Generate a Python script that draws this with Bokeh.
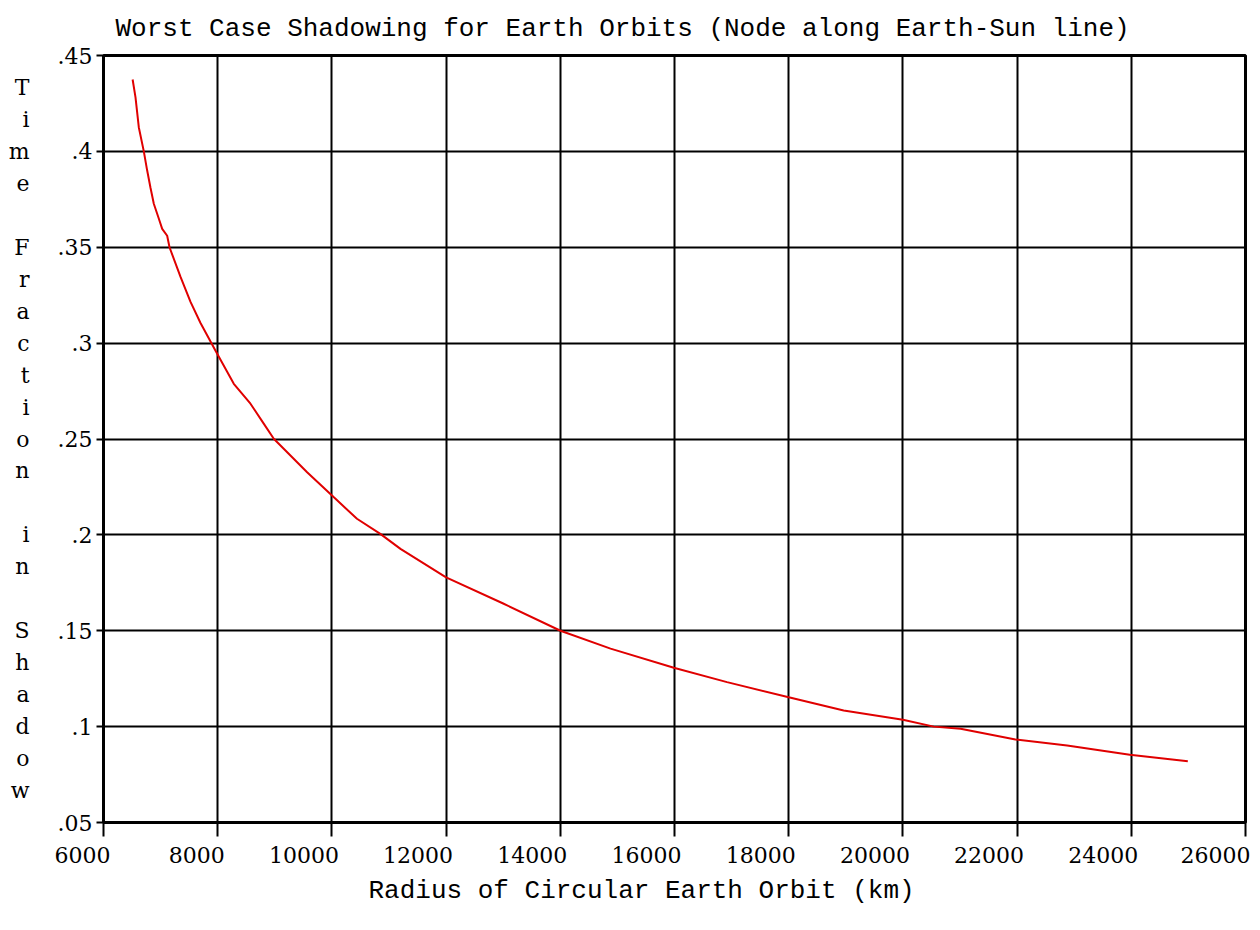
from bokeh.plotting import figure
from bokeh.models import FixedTicker, Range1d, Title
from bokeh.embed import file_html
from bokeh.resources import INLINE

# ---- data ----
radius_km = [6510, 6560, 6618, 6706, 6765, 6823, 6881, 6968, 7028, 7115,
             7156, 7349, 7524, 7699, 7962, 8282, 8574, 8806, 8982, 9566,
             10030, 10439, 10848, 11201, 12000, 13000, 14003, 14880, 15988,
             16920, 18000, 18963, 20000, 20541, 21010, 21971, 22876, 23974,
             24990]
shadow_fraction = [0.4375, 0.4283, 0.4126, 0.400, 0.390, 0.3810, 0.3727,
                   0.3650, 0.3596, 0.3560, 0.350, 0.3345, 0.3215, 0.3105,
                   0.2960, 0.2788, 0.2684, 0.2580, 0.2501, 0.2327, 0.2197,
                   0.2084, 0.2005, 0.1927, 0.1778, 0.1642, 0.150, 0.1407,
                   0.1307, 0.1232, 0.1153, 0.1084, 0.1036, 0.1000, 0.0989,
                   0.0933, 0.0901, 0.0853, 0.0820]

x_ticks = [6000, 8000, 10000, 12000, 14000, 16000, 18000, 20000, 22000, 24000, 26000]
x_tick_labels = ["6000", "8000", "10000", "12000", "14000", "16000", "18000",
                 "20000", "22000", "24000", "26000"]
y_ticks = [0.05, 0.1, 0.15, 0.2, 0.25, 0.3, 0.35, 0.4, 0.45]
y_tick_labels = [".05", ".1", ".15", ".2", ".25", ".3", ".35", ".4", ".45"]

title_text = "Worst Case Shadowing for Earth Orbits (Node along Earth-Sun line)"
x_label_text = "Radius of Circular Earth Orbit (km)"
y_label_text = "Time Fraction in Shadow"

# ---- figure ----
p = figure(width=1250, height=922, output_backend="svg", toolbar_location=None,
           x_range=Range1d(6000, 26000), y_range=Range1d(0.05, 0.45),
           min_border_left=103, min_border_right=5, min_border_top=55,
           min_border_bottom=100, background_fill_color="white",
           border_fill_color="white")

p.line(radius_km, shadow_fraction, line_color="#e00000", line_width=2)

p.xaxis.ticker = FixedTicker(ticks=x_ticks)
p.yaxis.ticker = FixedTicker(ticks=y_ticks)
p.xgrid.ticker = FixedTicker(ticks=x_ticks)
p.ygrid.ticker = FixedTicker(ticks=y_ticks)


def _pad(lbl, i):
    # trailing figure spaces shift the digits so they end just right of each tick;
    # the last label is kept inside the canvas by Bokeh itself
    if i == len(x_tick_labels) - 1:
        return lbl
    return lbl + "\u2007" * (3 if len(lbl) == 4 else 4)


p.xaxis.major_label_overrides = {t: _pad(l, i)
                                 for i, (t, l) in enumerate(zip(x_ticks, x_tick_labels))}
p.yaxis.major_label_overrides = {t: l for t, l in zip(y_ticks, y_tick_labels)}

for ax in (p.xaxis[0], p.yaxis[0]):
    ax.axis_line_color = "black"
    ax.axis_line_width = 3
    ax.major_tick_line_color = "black"
    ax.major_tick_line_width = 2
    ax.major_tick_in = 0
    ax.minor_tick_in = 0
    ax.minor_tick_out = 0
    ax.major_label_text_font = "DejaVu Serif"
    ax.major_label_text_font_size = "22px"
    ax.major_label_text_color = "black"

p.xaxis.major_tick_out = 14
p.xaxis.major_label_standoff = 6
p.yaxis.major_tick_out = 7
p.yaxis.major_label_standoff = 4

# stacked vertical y-axis label
p.yaxis.axis_label = "\n".join(y_label_text)
p.yaxis.axis_label_orientation = "horizontal"
p.yaxis.axis_label_text_font = "DejaVu Serif"
p.yaxis.axis_label_text_font_size = "22px"
p.yaxis.axis_label_text_font_style = "normal"
p.yaxis.axis_label_text_color = "black"
p.yaxis.axis_label_text_line_height = 1.278
p.yaxis.axis_label_standoff = 25

for g in (p.xgrid[0], p.ygrid[0]):
    g.grid_line_color = "black"
    g.grid_line_width = 2
    g.grid_line_alpha = 1.0

p.outline_line_color = "black"
p.outline_line_width = 3
p.outline_line_alpha = 1.0

p.title.text = title_text
p.title.align = "left"
p.title.offset = 12
p.title.vertical_align = "top"
p.title.text_font = "Liberation Mono"
p.title.text_font_size = "26px"
p.title.text_font_style = "normal"
p.title.text_color = "black"
p.title.standoff = 19

xlab = Title(text=x_label_text, align="left", offset=265,
             text_font="Liberation Mono", text_font_size="26px",
             text_font_style="normal", text_color="black", standoff=6)
p.add_layout(xlab, "below")

open("out.html", "w").write(file_html(p, INLINE))
